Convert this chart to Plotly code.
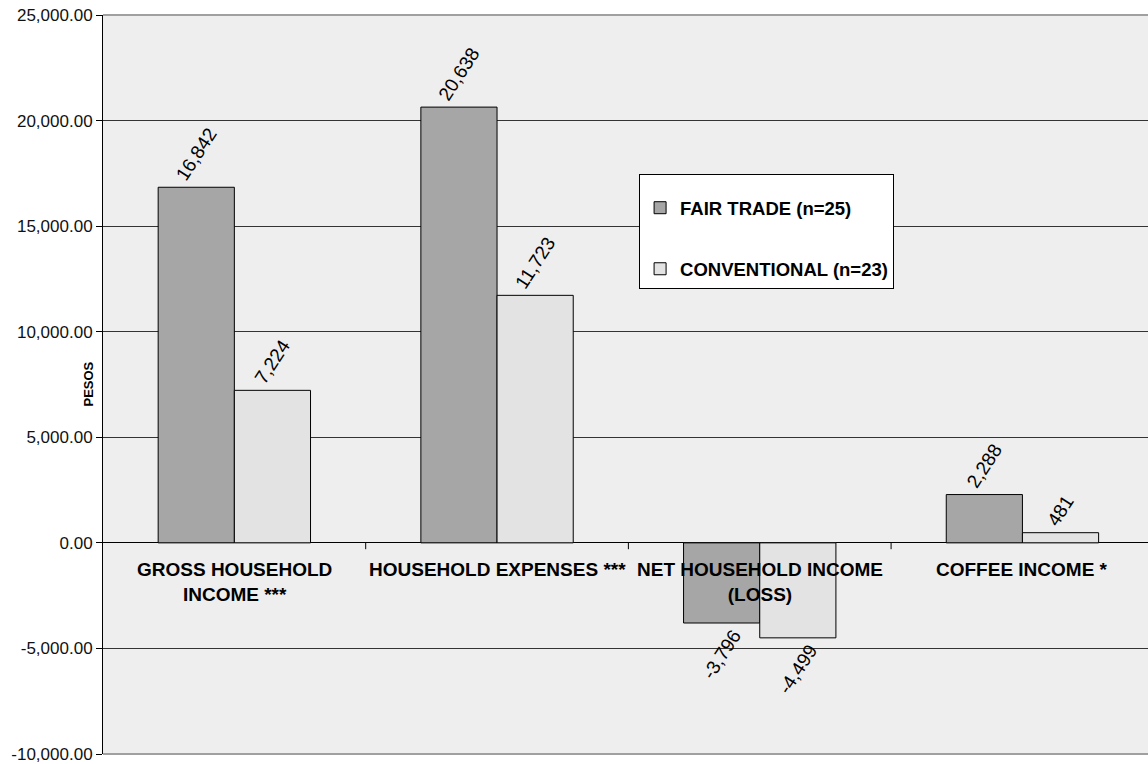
import plotly.graph_objects as go

categories = ["GROSS HOUSEHOLD<br>INCOME ***", "HOUSEHOLD EXPENSES ***",
              "NET HOUSEHOLD INCOME<br>(LOSS)", "COFFEE INCOME *"]
fair_trade = [16842, 20638, -3796, 2288]
conventional = [7224, 11723, -4499, 481]
series_names = ["FAIR TRADE (n=25)", "CONVENTIONAL (n=23)"]
y_ticks = [-10000, -5000, 0, 5000, 10000, 15000, 20000, 25000]
y_tick_labels = [f"{v:,.2f}" for v in y_ticks]

FONT = "Liberation Sans, Arial, sans-serif"
x_idx = list(range(len(categories)))

fig = go.Figure()
for name, vals, color, grp in [(series_names[0], fair_trade, "#A6A6A6", "a"),
                                (series_names[1], conventional, "#E3E3E3", "b")]:
    fig.add_trace(go.Bar(
        x=x_idx, y=vals, name=name, legendgroup=grp,
        marker=dict(color=color, line=dict(color="#000000", width=1)),
        text=[f"{v:,}" for v in vals], textposition="outside", textangle=-57,
        textfont=dict(family=FONT, size=19, color="#000000"),
        constraintext="none", cliponaxis=False,
    ))

annotations = []
for i, c in enumerate(categories):
    annotations.append(dict(x=i, y=0, xref="x", yref="y", text=c, showarrow=False,
                            yanchor="top", yshift=-14,
                            font=dict(family=FONT, size=19, color="#000000", weight="bold")))
annotations.append(dict(x=0, y=0.5, xref="paper", yref="paper", text="PESOS", showarrow=False,
                        textangle=-90, xshift=-15, xanchor="center",
                        font=dict(family=FONT, size=13, color="#000000", weight="bold")))

shapes = []
for xb in [0.5, 1.5, 2.5]:
    shapes.append(dict(type="line", xref="x", yref="y", x0=xb, x1=xb, y0=0, y1=-300,
                       line=dict(color="#000000", width=1)))
for yd in [0, 1]:
    shapes.append(dict(type="line", xref="paper", yref="y domain", x0=0, x1=1, y0=yd, y1=yd,
                       line=dict(color="#A0A0A0", width=2), layer="above"))

fig.update_layout(
    width=1148, height=764,
    margin=dict(l=103, r=0, t=15, b=10),
    paper_bgcolor="#FFFFFF", plot_bgcolor="#EEEEEE",
    barmode="group", bargap=0.42, bargroupgap=0,
    font=dict(family=FONT, color="#000000"),
    showlegend=True,
    legend=dict(x=0.513, y=0.785, xanchor="left", yanchor="top",
                bgcolor="#FFFFFF", bordercolor="#000000", borderwidth=1,
                font=dict(family=FONT, size=18.5, color="#000000", weight="bold"),
                title=dict(text=" ", font=dict(size=11)),
                tracegroupgap=34, itemwidth=30, traceorder="grouped"),
    annotations=annotations, shapes=shapes,
    xaxis=dict(range=[-0.5, 3.478], showticklabels=False, ticks="", showgrid=False,
               zeroline=False, showline=False, fixedrange=True),
    yaxis=dict(range=[-10000, 25000], tickvals=y_ticks, ticktext=y_tick_labels,
               tickfont=dict(family=FONT, size=17, color="#111111"),
               ticks="outside", ticklen=6, tickcolor="#000000",
               showgrid=True, gridcolor="#333333", gridwidth=1,
               zeroline=True, zerolinecolor="#000000", zerolinewidth=1,
               showline=True, linecolor="#000000", linewidth=1),
)

fig.write_html("out.html")
